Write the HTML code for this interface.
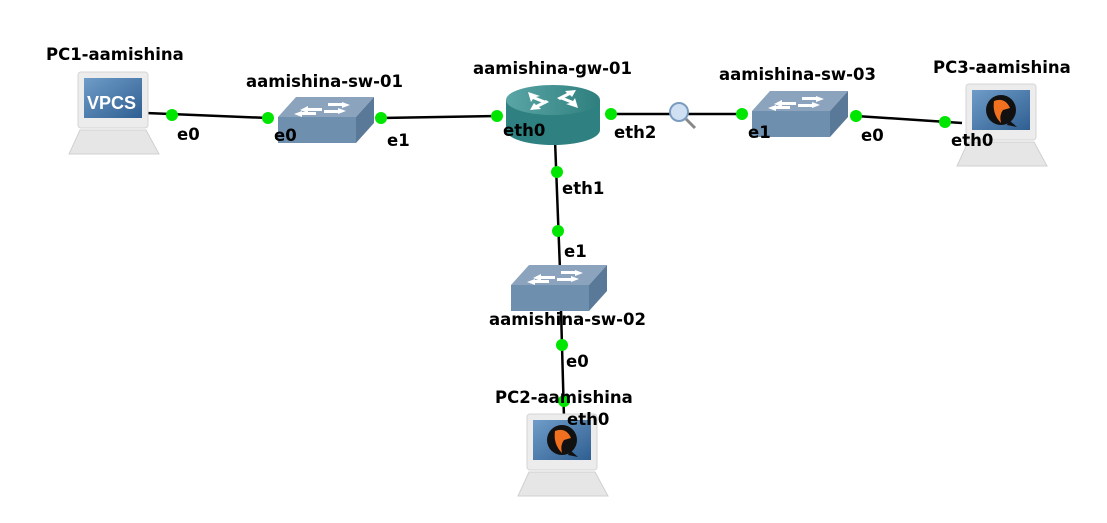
<!DOCTYPE html>
<html><head><meta charset="utf-8"><style>
html,body{margin:0;padding:0;background:#fff;}
svg text{font-family:"DejaVu Sans","Liberation Sans",sans-serif;font-weight:bold;font-size:16.5px;fill:#000;}
</style></head><body>
<svg width="1107" height="518" viewBox="0 0 1107 518" xmlns="http://www.w3.org/2000/svg">
<defs>
<linearGradient id="scr" x1="0" y1="0" x2="1" y2="1"><stop offset="0" stop-color="#6f9cc8"/><stop offset="1" stop-color="#2f5f92"/></linearGradient>
<linearGradient id="rt" x1="0" y1="0" x2="1" y2="0"><stop offset="0" stop-color="#5aa5a5"/><stop offset="1" stop-color="#2f7f7f"/></linearGradient>
<g id="sw">
<polygon points="0,20 18,0 96,0 78,20" fill="#8ba3bd"/>
<polygon points="0,20 78,20 78,46 0,46" fill="#6f8fae"/>
<polygon points="78,20 96,0 96,26 78,46" fill="#5a7898"/>
<g fill="#fff"><polygon points="22,13 30,9 30,11 44,11 44,14 30,14 30,16"/><polygon points="64,5 72,8 64,11 64,9 50,9 50,6 64,6"/><polygon points="16,17 24,14 24,15 38,15 38,18 24,18 24,20"/><polygon points="60,11 68,14 60,17 60,16 46,16 46,13 60,13"/></g>
</g>
<g id="pc">
<rect x="9" y="0" width="70" height="56" rx="3" fill="#ececec" stroke="#d5d5d5"/>
<rect x="15" y="6" width="58" height="40" fill="url(#scr)"/>
<polygon points="11,58 77,58 90,82 0,82" fill="#e6e6e6" stroke="#d0d0d0"/>
</g>
<g id="q"><circle cx="44" cy="26" r="15" fill="#111"/><path d="M37,17 Q48,13 53,24 L46,26 Q42,31 44,39 Q35,30 37,17Z" fill="#f07020"/><path d="M52,36 L60,43 L50,41Z" fill="#111"/></g>
</defs>

<g stroke="#000" stroke-width="2.5" fill="none">
<line x1="146" y1="113" x2="268" y2="118"/>
<line x1="381" y1="118" x2="497" y2="116"/>
<line x1="611" y1="114" x2="742" y2="114"/>
<line x1="856" y1="116" x2="962" y2="123"/>
<line x1="555" y1="140" x2="560" y2="270"/>
<line x1="561" y1="310" x2="564" y2="418"/>
</g>

<use href="#pc" x="69" y="72"/>
<text x="87" y="109" style="font-size:18px;fill:#fff;font-family:'Liberation Sans',sans-serif">VPCS</text>
<use href="#pc" x="957" y="84"/>
<use href="#q" x="957" y="84"/>
<use href="#pc" x="518" y="414"/>
<use href="#q" x="518" y="414"/>

<use href="#sw" x="278" y="97"/>
<use href="#sw" x="752" y="91"/>
<use href="#sw" x="511" y="265"/>

<path d="M506,100 L506,130 A47,15 0 0 0 600,130 L600,100Z" fill="#2f8080"/>
<ellipse cx="553" cy="100" rx="47" ry="15" fill="url(#rt)"/>
<g fill="#fff"><polygon points="528,92 540,96 536,97 546,101 543,103 533,99 531,102"/><polygon points="578,108 566,104 570,103 560,99 563,97 573,101 575,98"/><polygon points="576,90 572,97 570,95 560,100 557,98 567,93 565,91"/><polygon points="530,110 534,103 536,105 546,100 549,102 539,107 541,109"/></g>

<line x1="686" y1="119" x2="695" y2="128" stroke="#888" stroke-width="3"/>
<circle cx="679" cy="112" r="9" fill="#cfe0f3" stroke="#7a9cc0" stroke-width="2"/>

<g fill="#00e600">
<circle cx="172" cy="115" r="6"/><circle cx="268" cy="118" r="6"/><circle cx="381" cy="118" r="6"/>
<circle cx="497" cy="116" r="6"/><circle cx="611" cy="114" r="6"/><circle cx="742" cy="114" r="6"/>
<circle cx="856" cy="116" r="6"/><circle cx="945" cy="122" r="6"/>
<circle cx="557" cy="172" r="6"/><circle cx="558" cy="231" r="6"/>
<circle cx="562" cy="345" r="6"/><circle cx="564" cy="401" r="6"/>
</g>

<text x="46" y="60">PC1-aamishina</text>
<text x="246" y="87">aamishina-sw-01</text>
<text x="473" y="74">aamishina-gw-01</text>
<text x="719" y="80">aamishina-sw-03</text>
<text x="933" y="73">PC3-aamishina</text>
<text x="489" y="325">aamishina-sw-02</text>
<text x="495" y="403">PC2-aamishina</text>
<text x="177" y="140">e0</text>
<text x="274" y="141">e0</text>
<text x="387" y="146">e1</text>
<text x="503" y="136">eth0</text>
<text x="614" y="138">eth2</text>
<text x="748" y="138">e1</text>
<text x="861" y="141">e0</text>
<text x="951" y="146">eth0</text>
<text x="562" y="194">eth1</text>
<text x="564" y="257">e1</text>
<text x="566" y="367">e0</text>
<text x="567" y="425">eth0</text>
</svg>
</body></html>
